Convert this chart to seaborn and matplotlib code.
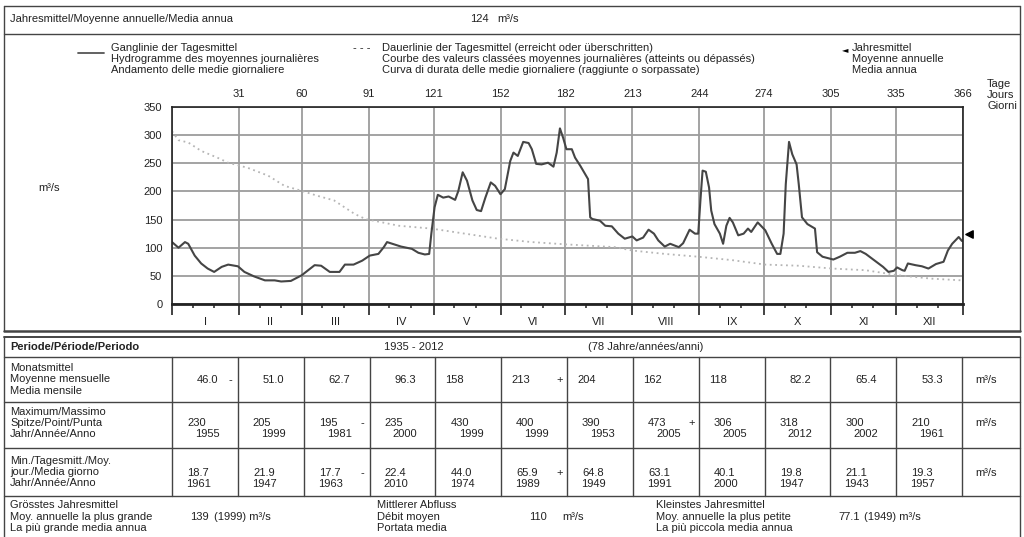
"""
Abflussregime - Ganglinie und Dauerlinie der Tagesmittel mit Monatstabelle
"""
import numpy as np
import matplotlib
matplotlib.use('Agg')
import matplotlib.pyplot as plt
from matplotlib.lines import Line2D
import seaborn as sns

# daily means (day of year, m3/s)
hydro_day = [0, 3, 6, 7.5, 10.5, 13.5, 16.5, 19.5, 23, 26, 30.5, 33.5, 38, 43, 47.5, 50.5, 55,
             60, 63, 66, 69, 73, 77.5, 80, 84, 88, 91.5, 95.5, 98, 99.5, 102, 106, 111, 114,
             117, 119, 120, 121.5, 123, 125.5, 128, 131, 132.5, 134.5, 136.5, 139, 141, 143,
             145, 147.5, 149.5, 152, 154, 156.5, 158, 160, 162.5, 165, 166.5, 168.5, 171, 174,
             176.5, 178, 179.5, 181, 182.5, 185, 186.5, 189, 192.5, 193.5, 194.5, 198, 200.5,
             203.5, 206.5, 209.5, 213, 215, 218, 220.5, 223, 225, 228, 230.5, 234.5, 236.5,
             239.5, 242, 243.5, 244.5, 245.5, 247, 248.5, 249.5, 251, 253.5, 255, 256.5, 258,
             259.5, 262, 264.5, 266.5, 268, 271, 274.5, 277.5, 280, 281.5, 283, 284, 285.5,
             287, 289, 290, 291.5, 294, 297.5, 298.5, 301, 304, 306, 309, 312.5, 316, 318.5,
             321, 325.5, 329, 331.5, 334, 335.5, 338, 339, 340.5, 344, 347, 350, 353.5, 357,
             359, 361, 364, 365.5]
hydro_q = [110, 100, 110, 107, 86, 72, 63, 57, 66, 70, 67, 57, 49, 42, 42, 40, 41,
           51, 60, 69, 68, 57, 57, 70, 70, 77, 86, 89, 101, 110, 107, 102, 98, 91,
           88, 89, 125, 172, 194, 189, 191, 185, 201, 234, 219, 184, 167, 165,
           189, 216, 210, 195, 204, 254, 269, 263, 288, 286, 275, 249, 248, 251,
           244, 269, 312, 295, 275, 275, 260, 245, 222, 154, 151, 148, 139,
           138, 125, 116, 120, 113, 118, 132, 125, 113, 102, 107, 101, 108,
           132, 125, 125, 184, 237, 235, 207, 166, 142, 125, 107, 139, 153,
           145, 122, 125, 134, 128, 145, 131, 107, 89, 89, 125, 213, 288,
           266, 248, 213, 154, 142, 134, 92, 84, 81, 79, 84, 91, 91, 94,
           89, 76, 66, 57, 59, 65, 60, 59, 72, 69, 67, 63, 71, 75,
           95, 107, 119, 112]

# duration curve (reached or exceeded)
dur_day = [0, 3, 7.5, 13.5, 21, 26, 35, 44.5, 52, 60, 67.5, 75, 84.5, 89.5, 105, 120, 135.5,
           151, 166.5, 182, 205, 213, 228, 243.5, 259, 274.5, 290, 305.5, 321, 336, 351.5, 365.5]
dur_q = [307, 291, 287, 272, 260, 251, 242, 228, 210, 201, 192, 184, 160, 151, 139, 134, 125,
         116, 110, 106, 101, 95, 89, 84, 78, 70, 68, 63, 60, 51, 45, 42]

annual_mean = 124
month_starts = [0, 31, 60, 91, 121, 152, 182, 213, 244, 274, 305, 335, 366]
month_names = ['I', 'II', 'III', 'IV', 'V', 'VI', 'VII', 'VIII', 'IX', 'X', 'XI', 'XII']

monthly_mean = ['46.0', '51.0', '62.7', '96.3', '158', '213', '204', '162', '118', '82.2', '65.4', '53.3']
max_peak = ['230', '205', '195', '235', '430', '400', '390', '473', '306', '318', '300', '210']
max_year = ['1955', '1999', '1981', '2000', '1999', '1999', '1953', '2005', '2005', '2012', '2002', '1961']
min_daily = ['18.7', '21.9', '17.7', '22.4', '44.0', '65.9', '64.8', '63.1', '40.1', '19.8', '21.1', '19.3']
min_year = ['1961', '1947', '1963', '2010', '1974', '1989', '1949', '1991', '2000', '1947', '1943', '1957']

sns.set_theme(style='white')
plt.rcParams['font.family'] = ['Liberation Sans', 'DejaVu Sans']
plt.rcParams['font.size'] = 8.0
NUM = 8.0   # size of the numbers
TXT = '#222222'
LN = '#444444'

W, H = 1024, 537
fig = plt.figure(figsize=(W / 100, H / 100), dpi=100)


def fx(x): return x / W
def fy(y): return 1 - y / H


def ftext(x, y, s, **kw):
    kw.setdefault('va', 'center')
    kw.setdefault('color', TXT)
    fig.text(fx(x), fy(y), s, **kw)


def fline(xs, ys, lw=1.0, color=LN, **kw):
    fig.add_artist(Line2D([fx(v) for v in xs], [fy(v) for v in ys],
                          transform=fig.transFigure, lw=lw, color=color, **kw))


# ---- chart ----
ax = fig.add_axes([fx(172), fy(304), (963 - 172) / W, (304 - 107) / H])
ax.set_axisbelow(True)
sns.lineplot(x=dur_day, y=dur_q, ax=ax, color='#b5b5b5', lw=1.3, linestyle=(0, (1, 2)))
sns.lineplot(x=hydro_day, y=hydro_q, ax=ax, color='#454545', lw=1.5)
ax.scatter([369], [annual_mean], marker='<', s=28, color='black', clip_on=False, zorder=5)
ax.set_xlim(0, 366); ax.set_ylim(0, 350)
ax.set_xlabel(''); ax.set_ylabel('')
ax.set_xticks(month_starts)
ax.set_xticklabels([])
minor = [s + off for s in month_starts[:-1] for off in (9.5, 19.5)]
ax.set_xticks(minor, minor=True)
ax.tick_params(axis='x', which='major', bottom=True, top=False, direction='out', length=8,
               width=1.3, color='#333333')
ax.tick_params(axis='x', which='minor', bottom=True, direction='out', length=3, width=1.2,
               color='#333333')
ax.set_yticks(range(0, 351, 50))
ax.tick_params(axis='y', left=False, length=0, pad=7, labelcolor=TXT, labelsize=NUM)
ax.grid(True, which='major', color='#9c9c9c', lw=1.3)
for side, sp in ax.spines.items():
    sp.set_color('#222222'); sp.set_linewidth(1.2)
ax.spines['bottom'].set_linewidth(2.0)

top = ax.secondary_xaxis('top')
top.set_xticks(month_starts[1:])
top.tick_params(length=0, pad=6, labelcolor=TXT, labelsize=NUM)
top.spines['top'].set_visible(False)

for i, name in enumerate(month_names):
    ax.annotate(name, xy=((month_starts[i] + month_starts[i + 1]) / 2, 0),
                xycoords=('data', 'axes fraction'), xytext=(0, -13),
                textcoords='offset points', ha='center', va='center', color=TXT, fontsize=NUM)

ftext(38, 188, 'm³/s', fontsize=NUM)
for k, s in enumerate(['Tage', 'Jours', 'Giorni']):
    ftext(987, 84 + k * 11, s)

# ---- legend ----
fline([78, 104], [53, 53], lw=1.3, color='#555555')
for k, s in enumerate(['Ganglinie der Tagesmittel', 'Hydrogramme des moyennes journalières',
                       'Andamento delle medie giornaliere']):
    ftext(111, 48 + k * 11, s)
ftext(353, 48, '- - -')
for k, s in enumerate(['Dauerlinie der Tagesmittel (erreicht oder überschritten)',
                       'Courbe des valeurs classées moyennes journalières (atteints ou dépassés)',
                       'Curva di durata delle medie giornaliere (raggiunte o sorpassate)']):
    ftext(382, 48 + k * 11, s)
fig.text(fx(845), fy(50), '◄', fontsize=6, color='black', ha='center', va='center',
         family=['DejaVu Sans'])
for k, s in enumerate(['Jahresmittel', 'Moyenne annuelle', 'Media annua']):
    ftext(852, 48 + k * 11, s)

# ---- header / frames ----
ftext(10, 19, 'Jahresmittel/Moyenne annuelle/Media annua')
ftext(470, 19, f'{annual_mean}', fontsize=NUM)
ftext(497, 19, 'm³/s')
fline([4, 1020], [6, 6])
fline([4, 1020], [34, 34])
fline([4, 1020], [331, 331], lw=1.8)
fline([4, 4], [6, 331]); fline([1020, 1020], [6, 331])

# ---- table ----
col = np.linspace(172, 962, 13)
fline([4, 1020], [337, 337], lw=1.4)
fline([4, 4], [337, 537]); fline([1020, 1020], [337, 537])
for y in [357, 402, 448, 496]:
    fline([4, 1020], [y, y])
for x in col:
    fline([x, x], [357, 496])

ftext(10, 347, 'Periode/Période/Periodo', weight='bold')
ftext(384, 347, '1935 - 2012')
ftext(588, 347, '(78 Jahre/années/anni)')

for k, s in enumerate(['Monatsmittel', 'Moyenne mensuelle', 'Media mensile']):
    ftext(10, 368 + k * 11.5, s)
for k, s in enumerate(['Maximum/Massimo', 'Spitze/Point/Punta', 'Jahr/Année/Anno']):
    ftext(10, 412 + k * 11, s)
for k, s in enumerate(['Min./Tagesmitt./Moy.', 'jour./Media giorno', 'Jahr/Année/Anno']):
    ftext(10, 461 + k * 11, s)


def flags(vals):
    v = [float(s) for s in vals]
    return int(np.argmin(v)), int(np.argmax(v))


lo, hi = flags(monthly_mean)
for i, s in enumerate(monthly_mean):
    if '.' in s:
        ftext((col[i] + col[i + 1]) / 2 + 3, 380, s, ha='center', fontsize=NUM)
    else:
        ftext(col[i] + 10, 380, s, fontsize=NUM)
    if i in (lo, hi):
        ftext(col[i + 1] - 7, 380, '-' if i == lo else '+', ha='center', fontsize=NUM)

lo, hi = flags(max_peak)
for i, (s, yr) in enumerate(zip(max_peak, max_year)):
    ftext(col[i] + 15, 423, s, fontsize=NUM)
    ftext(col[i] + 48, 434, yr, ha='right', fontsize=NUM)
    if i in (lo, hi):
        ftext(col[i + 1] - 7, 423, '-' if i == lo else '+', ha='center', fontsize=NUM)

lo, hi = flags(min_daily)
for i, (s, yr) in enumerate(zip(min_daily, min_year)):
    ftext(col[i] + 37, 473, s, ha='right', fontsize=NUM)
    ftext(col[i] + 39, 484, yr, ha='right', fontsize=NUM)
    if i in (lo, hi):
        ftext(col[i + 1] - 7, 473, '-' if i == lo else '+', ha='center', fontsize=NUM)

for y in (380, 423, 473):
    ftext(975, y, 'm³/s', fontsize=NUM)

for k, s in enumerate(['Grösstes Jahresmittel', 'Moy. annuelle la plus grande',
                       'La più grande media annua']):
    ftext(10, 505 + k * 11.5, s)
ftext(190, 516.5, '139', fontsize=NUM)
ftext(214, 516.5, '(1999) m³/s', fontsize=NUM)
for k, s in enumerate(['Mittlerer Abfluss', 'Débit moyen', 'Portata media']):
    ftext(377, 505 + k * 11.5, s)
ftext(529, 516.5, '110', fontsize=NUM)
ftext(562, 516.5, 'm³/s', fontsize=NUM)
for k, s in enumerate(['Kleinstes Jahresmittel', 'Moy. annuelle la plus petite',
                       'La più piccola media annua']):
    ftext(656, 505 + k * 11.5, s)
ftext(838, 516.5, '77.1', fontsize=NUM)
ftext(864, 516.5, '(1949) m³/s', fontsize=NUM)

fig.savefig('out.png', dpi=100)
